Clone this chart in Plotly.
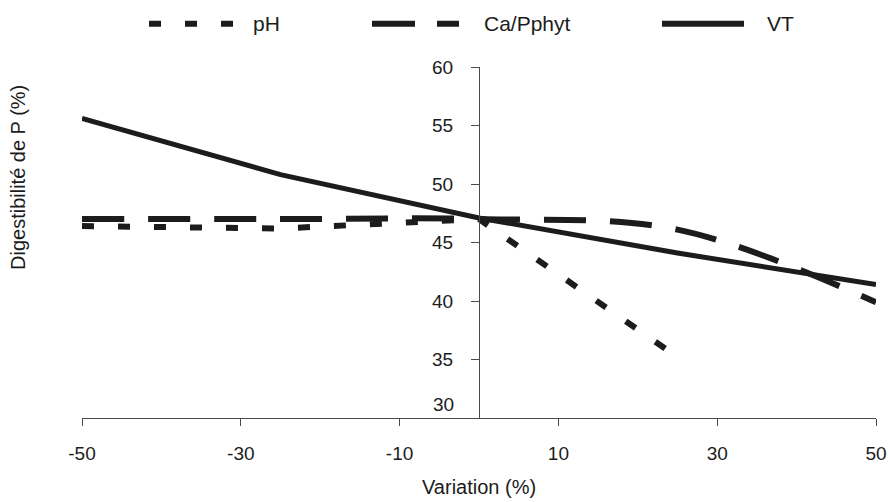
import plotly.graph_objects as go

# ---- data ----
variation = [-50, -25, 0, 25, 50]
ph_vals = [46.4, 46.2, 47.0, 35.2, None]
ca_pphyt_vals = [47.0, 47.0, 47.0, 46.1, 39.9]
vt_vals = [55.6, 50.8, 47.1, 44.1, 41.4]

x_ticks = [-50, -30, -10, 10, 30, 50]
y_ticks = [30, 35, 40, 45, 50, 55, 60]

series_names = ["pH", "Ca/Pphyt", "VT"]

INK = "#1c1c1c"
AXIS = "#4a4a4a"
FONT = "Liberation Sans, Arial, Helvetica, sans-serif"

W, H = 888, 502
ML, MR, MT, MB = 82, 12, 67, 84
PW, PH = W - ML - MR, H - MT - MB


def px_to_paper_x(px):
    return (px - ML) / PW


def px_to_paper_y(py):
    return (H - MB - py) / PH


fig = go.Figure()
fig.add_trace(go.Scatter(x=variation, y=ph_vals, mode="lines", name=series_names[0],
                         line=dict(color=INK, width=6, dash="12px,24px"),
                         connectgaps=False, showlegend=False))
fig.add_trace(go.Scatter(x=variation, y=ca_pphyt_vals, mode="lines", name=series_names[1],
                         line=dict(color=INK, width=6, dash="42px,24px", shape="spline", smoothing=1),
                         showlegend=False))
fig.add_trace(go.Scatter(x=variation, y=vt_vals, mode="lines", name=series_names[2],
                         line=dict(color=INK, width=5),
                         showlegend=False))

# ---- custom legend (line samples + labels) ----
leg_y = px_to_paper_y(23.7)
legend_items = [
    (149, 233, "12px,24px", 250.5, series_names[0]),
    (372, 459, "43px,22px", 481.5, series_names[1]),
    (662, 744, "solid", 765, series_names[2]),
]
shapes = []
annotations = []
for x0, x1, dash, tx, label in legend_items:
    shapes.append(dict(type="line", xref="paper", yref="paper",
                       x0=px_to_paper_x(x0), x1=px_to_paper_x(x1), y0=leg_y, y1=leg_y,
                       line=dict(color=INK, width=6, dash=dash)))
    annotations.append(dict(text=label, xref="paper", yref="paper",
                            x=px_to_paper_x(tx), y=px_to_paper_y(24), xanchor="left", yanchor="middle",
                            showarrow=False, font=dict(family=FONT, size=21, color=INK)))

# y-axis title
annotations.append(dict(text="Digestibilité de P (%)", xref="paper", yref="paper",
                        x=px_to_paper_x(18), y=px_to_paper_y(178), xanchor="center", yanchor="middle",
                        textangle=-90, showarrow=False, font=dict(family=FONT, size=20, color=INK)))
# x-axis title
annotations.append(dict(text="Variation (%)", xref="paper", yref="paper",
                        x=px_to_paper_x(479), y=px_to_paper_y(487), xanchor="center", yanchor="middle",
                        showarrow=False, font=dict(family=FONT, size=20, color=INK)))

# lowest y tick label sits just above the horizontal axis in the reference
y_ticktext = [str(v) for v in y_ticks]
y_ticktext[0] = ""
annotations.append(dict(text=str(y_ticks[0]), xref="x", yref="y", x=0, y=y_ticks[0],
                        xanchor="right", yanchor="bottom", xshift=-23, yshift=1,
                        showarrow=False, font=dict(family=FONT, size=19, color=INK)))

fig.update_layout(
    width=W, height=H,
    margin=dict(l=ML, r=MR, t=MT, b=MB, autoexpand=False),
    paper_bgcolor="white", plot_bgcolor="white",
    font=dict(family=FONT, color=INK),
    shapes=shapes, annotations=annotations,
    showlegend=False,
    xaxis=dict(range=[-50, 50], tickvals=x_ticks, ticktext=[str(v) for v in x_ticks],
               showline=True, linecolor=AXIS, linewidth=1.2,
               ticks="outside", ticklen=7, tickwidth=1.2, tickcolor=AXIS,
               ticklabelstandoff=11,
               tickfont=dict(family=FONT, size=19, color=INK),
               showgrid=False, zeroline=False, automargin=False),
    yaxis=dict(range=[30, 60], tickvals=y_ticks, ticktext=y_ticktext,
               anchor="free", position=0.5,
               showline=True, linecolor=AXIS, linewidth=1.2,
               ticks="outside", ticklen=8, tickwidth=1.2, tickcolor=AXIS,
               ticklabelstandoff=14,
               tickfont=dict(family=FONT, size=19, color=INK),
               showgrid=False, zeroline=False, automargin=False),
)

fig.write_html("out.html",
               config={"displayModeBar": False},
               post_script="document.body.style.margin='0px';document.body.style.overflow='hidden';")
